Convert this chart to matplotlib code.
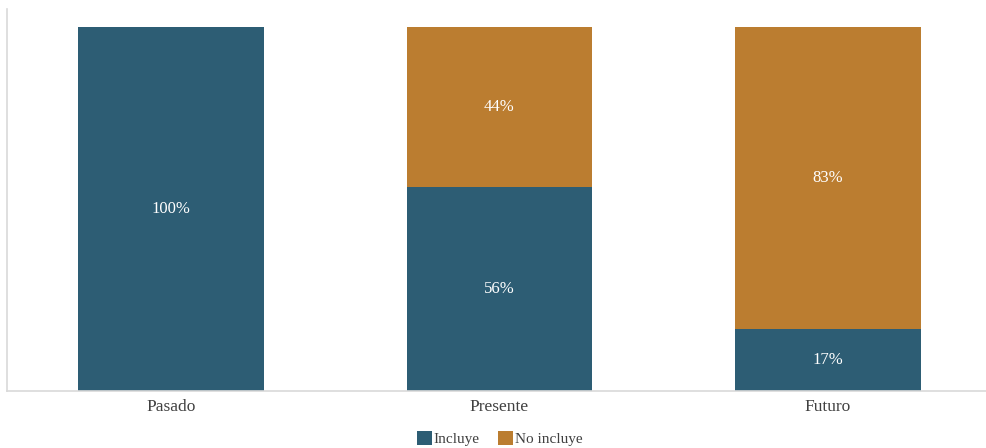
import matplotlib.pyplot as plt
import numpy as np

plt.rcParams['font.family'] = ['Liberation Serif', 'DejaVu Serif']

categories = ['Pasado', 'Presente', 'Futuro']
incluye = [100, 56, 17]
no_incluye = [0, 44, 83]

blue = '#2D5D74'
orange = '#BB7D30'

fig = plt.figure(figsize=(9.87, 4.48), dpi=100)
ax = fig.add_axes([7 / 987, 57 / 448, 985 / 987, 382 / 448])

x = np.arange(len(categories))
w = 0.566
ax.bar(x, incluye, w, color=blue, label='Incluye')
ax.bar(x, no_incluye, w, bottom=incluye, color=orange, label='No incluye')

# etiquetas dentro de las barras
for i in range(len(categories)):
    if incluye[i] > 0:
        ax.text(x[i], incluye[i] / 2, f'{incluye[i]}%', ha='center', va='center',
                color='white', fontsize=12)
    if no_incluye[i] > 0:
        ax.text(x[i], incluye[i] + no_incluye[i] / 2, f'{no_incluye[i]}%', ha='center',
                va='center', color='white', fontsize=12)

ax.set_xlim(-0.5, 2.5)
ax.set_ylim(0, 105)
ax.set_xticks(x)
ax.set_xticklabels(categories, fontsize=12.5, color='#404040')
ax.tick_params(axis='x', length=0, pad=6)
ax.set_yticks([])
for s in ['top', 'right']:
    ax.spines[s].set_visible(False)
for s in ['left', 'bottom']:
    ax.spines[s].set_color('#d9d9d9')
    ax.spines[s].set_linewidth(1.2)

ax.legend(loc='center', bbox_to_anchor=(0.5, -0.125), ncol=2, frameon=False,
          fontsize=11, handlelength=1.0, handleheight=1.0, handletextpad=0.1,
          columnspacing=1.2, labelcolor='#404040')

fig.savefig('out.png', dpi=100)
